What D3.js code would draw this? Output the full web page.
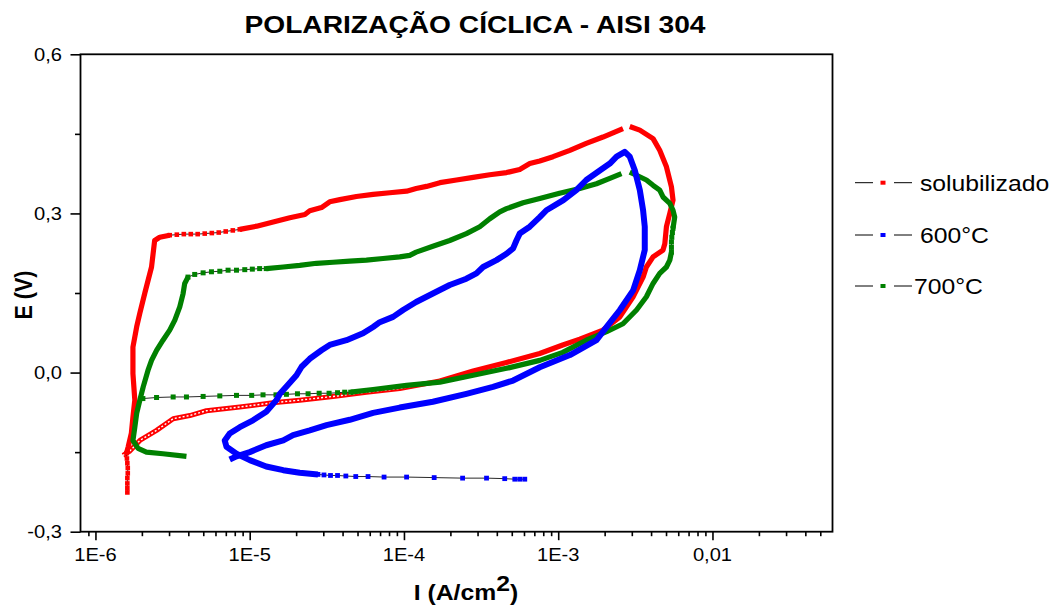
<!DOCTYPE html>
<html>
<head>
<meta charset="utf-8">
<script src="https://cdn.jsdelivr.net/npm/d3@7"></script>
<style>
  html, body { margin: 0; padding: 0; background: #fff; }
  svg { display: block; font-family: "Liberation Sans", Arial, Helvetica, sans-serif; }
</style>
</head>
<body>
<svg id="chart" width="1061" height="608"></svg>
<script>
// Cyclic polarization of AISI 304: pairs of [current density I (A/cm²), potential E (V)]
// listed in scan order. Dense stretches are drawn as a solid band, sparse ones as markers.

// solubilizado
const solOpen = [[1.51e-6,-0.156],[1.67e-6,-0.148],[1.94e-6,-0.128],[2.49e-6,-0.109],[3.19e-6,-0.087],[4.09e-6,-0.081],[5.24e-6,-0.072],[8.62e-6,-0.065],[1.41e-5,-0.057],[2.11e-5,-0.052],[3.47e-5,-0.045],[5.71e-5,-0.037],[9.39e-5,-0.030],[1.71e-4,-0.016]];
const solFwd = [[1.71e-4,-0.016],[2.81e-4,0.003],[4.62e-4,0.019],[7.59e-4,0.036],[1.07e-3,0.052],[1.38e-3,0.063],[1.95e-3,0.080],[2.51e-3,0.105],[3.06e-3,0.143],[3.55e-3,0.180],[3.73e-3,0.199],[4.12e-3,0.218],[4.78e-3,0.231],[4.91e-3,0.243],[5.03e-3,0.275],[5.29e-3,0.300],[5.55e-3,0.325],[5.42e-3,0.350],[5.03e-3,0.388],[4.55e-3,0.419],[4.12e-3,0.441],[3.38e-3,0.457],[2.91e-3,0.464]];
const solRev = [[2.63e-3,0.460],[1.95e-3,0.444],[1.52e-3,0.432],[1.19e-3,0.419],[9.26e-4,0.407],[7.59e-4,0.399],[6.54e-4,0.394],[5.63e-4,0.383],[4.62e-4,0.377],[3.60e-4,0.373],[2.81e-4,0.368],[2.19e-4,0.363],[1.71e-4,0.358],[1.40e-4,0.351],[1.20e-4,0.347],[1.04e-4,0.342],[8.09e-5,0.339],[6.31e-5,0.336],[4.92e-5,0.332],[3.84e-5,0.326],[3.30e-5,0.322],[2.92e-5,0.311],[2.45e-5,0.305],[2.28e-5,0.298],[1.82e-5,0.292],[1.42e-5,0.284],[1.11e-5,0.276],[8.62e-6,0.270]];
const solRevSparse = [[8.62e-6,0.270],[7.77e-6,0.268],[6.99e-6,0.266],[6.30e-6,0.264],[5.68e-6,0.263],[5.11e-6,0.262],[4.60e-6,0.261],[4.15e-6,0.261],[3.74e-6,0.261],[3.37e-6,0.260],[3.03e-6,0.259]];
const solDown = [[3.03e-6,0.259],[2.61e-6,0.255],[2.42e-6,0.249],[2.31e-6,0.199],[2.09e-6,0.150],[1.94e-6,0.112],[1.85e-6,0.086],[1.75e-6,0.048],[1.75e-6,-0.002],[1.80e-6,-0.052],[1.75e-6,-0.084],[1.71e-6,-0.114],[1.63e-6,-0.140],[1.59e-6,-0.152]];
const solTail = [[1.59e-6,-0.152],[1.60e-6,-0.162],[1.61e-6,-0.171],[1.62e-6,-0.180],[1.62e-6,-0.190],[1.61e-6,-0.199],[1.61e-6,-0.209],[1.61e-6,-0.218],[1.61e-6,-0.226]];

// 600 °C
const t600Start = [[6.07e-4,-0.201],[5.63e-4,-0.201],[5.23e-4,-0.201],[4.50e-4,-0.200],[3.43e-4,-0.199],[2.40e-4,-0.199],[1.57e-4,-0.198],[1.04e-4,-0.197],[7.43e-5,-0.197],[5.85e-5,-0.196],[4.87e-5,-0.196],[4.20e-5,-0.195],[3.71e-5,-0.194],[3.34e-5,-0.194],[3.03e-5,-0.193],[2.77e-5,-0.192]];
const t600Loop = [[2.77e-5,-0.192],[2.11e-5,-0.189],[1.65e-5,-0.184],[1.28e-5,-0.177],[1.00e-5,-0.165],[8.21e-6,-0.153],[7.07e-6,-0.140],[6.89e-6,-0.128],[7.42e-6,-0.115],[8.62e-6,-0.103],[1.05e-5,-0.090],[1.28e-5,-0.074],[1.49e-5,-0.052],[1.57e-5,-0.040],[1.76e-5,-0.024],[2.01e-5,-0.005],[2.17e-5,0.011],[2.45e-5,0.026],[2.92e-5,0.042],[3.30e-5,0.052],[4.24e-5,0.061],[5.43e-5,0.074],[6.31e-5,0.086],[6.97e-5,0.095],[8.50e-5,0.105],[9.87e-5,0.118],[1.20e-4,0.133],[1.54e-4,0.149],[1.98e-4,0.165],[2.54e-4,0.177],[2.95e-4,0.187],[3.26e-4,0.199],[3.98e-4,0.212],[4.62e-4,0.224],[5.10e-4,0.234],[5.36e-4,0.249],[5.63e-4,0.262],[6.54e-4,0.275],[7.59e-4,0.293],[8.39e-4,0.306],[1.08e-3,0.325],[1.31e-3,0.344],[1.52e-3,0.363],[1.86e-3,0.381],[2.16e-3,0.394],[2.39e-3,0.407],[2.70e-3,0.416],[2.91e-3,0.407],[3.14e-3,0.381],[3.38e-3,0.344],[3.55e-3,0.306],[3.64e-3,0.275],[3.64e-3,0.231],[3.38e-3,0.193],[3.06e-3,0.155],[2.51e-3,0.118],[2.06e-3,0.086],[1.77e-3,0.061],[1.19e-3,0.033],[7.59e-4,0.010],[5.10e-4,-0.015],[3.78e-4,-0.027],[2.54e-4,-0.040],[1.54e-4,-0.055],[9.39e-5,-0.066],[6.31e-5,-0.076],[4.45e-5,-0.089],[3.15e-5,-0.099],[2.45e-5,-0.109],[1.91e-5,-0.118],[1.65e-5,-0.128],[1.28e-5,-0.137],[1.00e-5,-0.150],[8.21e-6,-0.158],[7.42e-6,-0.164]];

// 700 °C
const t700Start = [[2.03e-6,-0.049],[2.49e-6,-0.047],[3.19e-6,-0.046],[3.89e-6,-0.046],[4.99e-6,-0.045],[6.40e-6,-0.044],[8.21e-6,-0.043],[1.03e-5,-0.043],[1.22e-5,-0.042],[1.48e-5,-0.042],[1.73e-5,-0.041],[2.04e-5,-0.040],[2.39e-5,-0.040],[2.82e-5,-0.039],[3.27e-5,-0.039],[3.71e-5,-0.038],[4.13e-5,-0.037],[4.52e-5,-0.037]];
const t700Fwd = [[4.52e-5,-0.037],[6.31e-5,-0.032],[1.04e-4,-0.024],[1.71e-4,-0.018],[2.81e-4,-0.005],[4.62e-4,0.008],[7.59e-4,0.023],[1.07e-3,0.038],[1.52e-3,0.061],[2.06e-3,0.077],[2.63e-3,0.092],[3.22e-3,0.118],[3.73e-3,0.143],[4.12e-3,0.168],[4.55e-3,0.187],[5.03e-3,0.199],[5.29e-3,0.212],[5.42e-3,0.227]];
const t700Mid = [[5.42e-3,0.227],[5.42e-3,0.236],[5.42e-3,0.246],[5.45e-3,0.255],[5.50e-3,0.264],[5.55e-3,0.272]];
const t700Fwd2 = [[5.55e-3,0.272],[5.69e-3,0.293],[5.55e-3,0.306],[5.29e-3,0.319],[4.78e-3,0.331],[4.55e-3,0.344],[4.12e-3,0.353],[3.73e-3,0.363],[3.22e-3,0.372],[2.91e-3,0.378]];
const t700Rev = [[2.57e-3,0.375],[2.16e-3,0.366],[1.77e-3,0.356],[1.38e-3,0.347],[1.02e-3,0.338],[7.59e-4,0.328],[5.92e-4,0.320],[4.62e-4,0.309],[4.18e-4,0.303],[3.60e-4,0.290],[3.10e-4,0.275],[2.54e-4,0.262],[1.98e-4,0.249],[1.54e-4,0.238],[1.20e-4,0.227],[1.09e-4,0.221],[9.39e-5,0.218],[7.32e-5,0.215],[5.71e-5,0.212],[4.45e-5,0.210],[3.47e-5,0.208],[2.71e-5,0.206],[2.11e-5,0.202],[1.65e-5,0.199],[1.28e-5,0.196]];
const t700RevSparse = [[1.28e-5,0.196],[1.16e-5,0.196],[1.04e-5,0.195],[9.29e-6,0.194],[8.21e-6,0.193],[7.24e-6,0.193],[6.40e-6,0.191],[5.65e-6,0.190],[4.99e-6,0.188],[4.40e-6,0.185],[3.98e-6,0.180]];
const t700Down = [[3.98e-6,0.180],[3.79e-6,0.168],[3.70e-6,0.149],[3.52e-6,0.124],[3.27e-6,0.099],[3.03e-6,0.080],[2.74e-6,0.061],[2.49e-6,0.042],[2.31e-6,0.023],[2.19e-6,0.004],[2.04e-6,-0.027],[1.94e-6,-0.052],[1.85e-6,-0.077],[1.80e-6,-0.103],[1.75e-6,-0.128],[1.89e-6,-0.143],[2.14e-6,-0.150],[2.74e-6,-0.153],[3.89e-6,-0.158]];

// axis ticks and labels
const xTickValues = [1e-6, 1e-5, 1e-4, 1e-3, 1e-2];
const xTickLabels = ["1E-6", "1E-5", "1E-4", "1E-3", "0,01"];
const yTickValues = [-0.3, 0.0, 0.3, 0.6];
const yTickLabels = ["-0,3", "0,0", "0,3", "0,6"];
const yMinorValues = [-0.15, 0.15, 0.45];

const seriesNames = ["solubilizado", "600°C", "700°C"];
const seriesColors = ["#ff0000", "#0000ff", "#008000"];

const titleText = "POLARIZAÇÃO CÍCLICA - AISI 304";

// ---------------------------------------------------------------
const SX = 1.15; // text is drawn slightly wide
const svg = d3.select("#chart");

const x = d3.scaleLog().domain([8e-7, 0.06]).range([80.5, 832.5]);
const y = d3.scaleLinear().domain([-0.3, 0.6]).range([531.7, 54.3]);

const line = d3.line().x(d => x(d[0])).y(d => y(d[1]));

function label(text, px, py, size, anchor, weight) {
  return svg.append("text")
    .attr("transform", `translate(${px},${py}) scale(${SX},1)`)
    .attr("text-anchor", anchor)
    .attr("font-size", size)
    .attr("font-weight", weight || "normal")
    .attr("fill", "#000")
    .text(text);
}

// minor x ticks: every integer multiple inside the domain
const xMinor = [];
for (let e = -7; e <= -2; e++) {
  for (let m = 2; m <= 9; m++) {
    const v = m * Math.pow(10, e);
    if (v > 8.01e-7 && v < 0.0599) xMinor.push(v);
  }
}

// axes (ticks only, frame drawn separately)
const xAxisMinor = d3.axisBottom(x).tickValues(xMinor).tickSize(4.5).tickFormat("");
const xAxisMajor = d3.axisBottom(x).tickValues(xTickValues).tickSize(8.5).tickFormat("");
const yAxisMinor = d3.axisLeft(y).tickValues(yMinorValues).tickSize(5.5).tickFormat("");
const yAxisMajor = d3.axisLeft(y).tickValues(yTickValues).tickSize(10).tickFormat("");

[[xAxisMinor, "x"], [xAxisMajor, "x"], [yAxisMinor, "y"], [yAxisMajor, "y"]].forEach(([ax, k]) => {
  const g = svg.append("g")
    .attr("transform", k === "x" ? `translate(0,${y.range()[0]})` : `translate(${x.range()[0]},0)`)
    .call(ax);
  g.select(".domain").remove();
  g.selectAll("line").attr("stroke", "#000").attr("stroke-width", 1.6);
});

// plot frame
svg.append("rect")
  .attr("x", x.range()[0]).attr("y", y.range()[1])
  .attr("width", x.range()[1] - x.range()[0])
  .attr("height", y.range()[0] - y.range()[1])
  .attr("fill", "none").attr("stroke", "#000").attr("stroke-width", 1.8);

// tick labels
xTickValues.forEach((v, i) => label(xTickLabels[i], x(v), 561, 17.5, "middle"));
yTickValues.forEach((v, i) => label(yTickLabels[i], 62, y(v) + 6.3, 17.5, "end"));

// series
function drawSeries(segments, color, width, marker) {
  const g = svg.append("g");
  segments.forEach(([pts, kind]) => {
    if (kind === "band") {
      g.append("path").attr("d", line(pts))
        .attr("fill", "none").attr("stroke", color).attr("stroke-width", width)
        .attr("stroke-linejoin", "round").attr("stroke-linecap", "butt");
    } else if (kind === "open") {
      g.append("path").attr("d", line(pts))
        .attr("fill", "none").attr("stroke", color).attr("stroke-width", 5)
        .attr("stroke-linejoin", "round");
      g.append("path").attr("d", line(pts))
        .attr("fill", "none").attr("stroke", "#fff").attr("stroke-width", 1.4)
        .attr("stroke-dasharray", "2,2").attr("stroke-linejoin", "round");
    } else {
      g.append("path").attr("d", line(pts))
        .attr("fill", "none").attr("stroke", "#111").attr("stroke-width", 0.9);
      g.selectAll(null).data(pts).join("rect")
        .attr("x", d => x(d[0]) - marker / 2)
        .attr("y", d => y(d[1]) - marker / 2)
        .attr("width", marker).attr("height", marker)
        .attr("fill", color);
    }
  });
}

drawSeries([[solOpen, "open"], [solFwd, "band"], [solRev, "band"], [solRevSparse, "dots"], [solDown, "band"], [solTail, "dots"]], seriesColors[0], 5.2, 4.6);
drawSeries([[t700Start, "dots"], [t700Fwd, "band"], [t700Mid, "dots"], [t700Fwd2, "band"], [t700Rev, "band"], [t700RevSparse, "dots"], [t700Down, "band"]], seriesColors[2], 5.2, 5);
drawSeries([[t600Start, "dots"], [t600Loop, "band"]], seriesColors[1], 6, 4.8);

// legend
const legendRows = [182.7, 235, 286];
const legendTextX = [920, 920, 914];
seriesNames.forEach((name, i) => {
  const cy = legendRows[i];
  svg.append("line").attr("x1", 855).attr("x2", 873).attr("y1", cy).attr("y2", cy).attr("stroke", "#000").attr("stroke-width", 1);
  svg.append("line").attr("x1", 894).attr("x2", 912).attr("y1", cy).attr("y2", cy).attr("stroke", "#000").attr("stroke-width", 1);
  svg.append("rect").attr("x", 880.5).attr("y", cy - 2).attr("width", 5).attr("height", 4).attr("fill", seriesColors[i]);
  label(name, legendTextX[i], cy + 7.8, 21.5, "start");
});

// titles
label(titleText, 475, 33, 24.5, "middle", "bold");

const xt = label("I (A/cm", 466, 600, 21.5, "middle", "bold");
xt.append("tspan").attr("dy", -9).text("2");
xt.append("tspan").attr("dy", 9).text(")");

svg.append("text")
  .attr("transform", `translate(32,295) scale(${SX},1) rotate(-90)`)
  .attr("text-anchor", "middle").attr("font-size", 21.5).attr("font-weight", "bold")
  .text("E (V)");
</script>
</body>
</html>
